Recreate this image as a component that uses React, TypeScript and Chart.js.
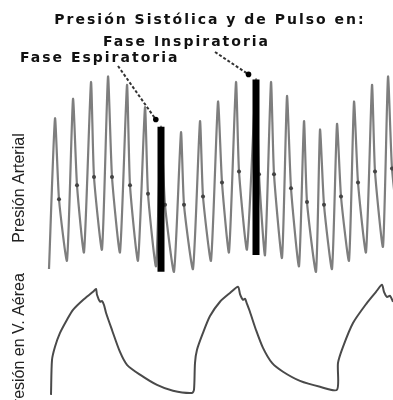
import { useEffect, useRef } from 'react';
import { Chart, registerables } from 'chart.js';

Chart.register(...registerables);

// ---- texts ----
const TITLE = 'Presión Sistólica y de Pulso en:';
const LABEL_INSP = 'Fase Inspiratoria';
const LABEL_ESP = 'Fase Espiratoria';
const AXIS_ART = 'Presión Arterial';
const AXIS_AIR = 'Presión en V. Aérea';

// ---- arterial pressure (time in s, pressure in mmHg), read beat by beat ----
const startTime = 0.04;
const startPressure = 61;
const peakTime = [0.28, 1.0, 1.72, 2.4, 3.16, 3.88, 4.52, 5.32, 6.08, 6.8, 7.52, 8.32, 8.92, 9.56, 10.24, 10.88, 11.56, 12.24, 12.96, 13.6];
const systolic = [115, 122, 128, 130, 127, 119, 112, 110, 114, 121, 128, 129, 128, 123, 114, 111, 113, 121, 127, 130];
const notchTime = [0.44, 1.16, 1.84, 2.56, 3.28, 4.0, 4.68, 5.44, 6.2, 6.96, 7.64, 8.44, 9.04, 9.72, 10.36, 11.04, 11.72, 12.4, 13.08, 13.76];
const notchPressure = [86, 91, 94, 94, 91, 88, 84, 84, 87, 92, 96, 95, 95, 90, 85, 84, 87, 92, 96, 97];
const troughTime = [0.76, 1.44, 2.16, 2.88, 3.6, 4.32, 5.04, 5.8, 6.52, 7.24, 7.96, 8.68, 9.36, 10.04, 10.72, 11.36, 12.04, 12.72, 13.4, 14.08];
const diastolic = [64, 67, 68, 67, 64, 62, 60, 61, 64, 67, 68, 66, 65, 62, 60, 61, 64, 67, 69, 70];
const expiratoryBeat = 6;
const inspiratoryBeat = 11;

// ---- airway pressure (time in s, pressure in cmH2O) ----
const airTime = [
  0.12, 0.16, 0.28, 0.48, 0.76, 1.0, 1.4, 1.8, 1.92, 1.96, 2.08, 2.16, 2.24, 2.32, 2.56, 2.88, 3.16, 3.68, 4.36, 5.0, 5.76,
  5.84, 5.88, 5.96, 6.2, 6.48, 6.88, 7.28, 7.6, 7.68, 7.8, 7.88, 7.96, 8.08, 8.32, 8.6, 8.96, 9.4, 10.08, 10.88, 11.56,
  11.6, 11.8, 12.2, 12.76, 13.12, 13.36, 13.44, 13.56, 13.68, 13.8,
];
const airPressure = [
  0, 9.5, 13.1, 16.9, 20.5, 23.2, 25.9, 28.1, 28.9, 27.3, 25.4, 25.6, 24.5, 22.4, 17.7, 11.7, 8.2, 5.5, 2.7, 1.1, 0.5,
  1.4, 8.7, 12.3, 16.9, 21.5, 25.4, 27.8, 29.5, 27.5, 25.9, 26.2, 24.8, 22.6, 17.7, 12.8, 8.7, 6.3, 3.8, 2.2, 1.4,
  8.7, 13.1, 19.6, 25.1, 28.1, 30.0, 28.1, 26.7, 27.0, 25.4,
];

const FONT_BOLD = { family: 'DejaVu Sans', size: 14, weight: 'bold' as const };

const annotations = {
  id: 'annotations',
  beforeDraw(chart: any) {
    chart.ctx.letterSpacing = '2px';
  },
  afterDraw(chart: any) {
    const { ctx, scales } = chart;
    const x = scales.x;
    const y = scales.y;
    const marks = [
      { text: LABEL_ESP, tx: 20, ty: 62, sx: 118, sy: 66, beat: expiratoryBeat },
      { text: LABEL_INSP, tx: 103, ty: 46, sx: 215, sy: 52, beat: inspiratoryBeat },
    ];
    ctx.save();
    ctx.letterSpacing = '2px';
    ctx.font = 'bold 14px "DejaVu Sans"';
    ctx.fillStyle = '#111';
    ctx.textAlign = 'left';
    ctx.textBaseline = 'alphabetic';
    for (const m of marks) {
      ctx.fillText(m.text, m.tx, m.ty);
      const px = x.getPixelForValue(peakTime[m.beat]);
      const py = y.getPixelForValue(systolic[m.beat]);
      const dx = m.sx - px;
      const dy = m.sy - py;
      const len = Math.hypot(dx, dy);
      const ex = px + (dx / len) * 9;
      const ey = py + (dy / len) * 9;
      ctx.save();
      ctx.strokeStyle = '#333';
      ctx.lineWidth = 2;
      ctx.setLineDash([3, 2]);
      ctx.beginPath();
      ctx.moveTo(m.sx, m.sy);
      ctx.lineTo(ex, ey);
      ctx.stroke();
      ctx.restore();
      ctx.beginPath();
      ctx.fillStyle = '#000';
      ctx.arc(ex, ey, 2.8, 0, Math.PI * 2);
      ctx.fill();
      ctx.fillStyle = '#111';
    }
    ctx.letterSpacing = '0px';
    ctx.font = '16px "Liberation Sans"';
    ctx.fillStyle = '#222';
    ctx.textAlign = 'center';
    const side = [
      { text: AXIS_ART, cy: 188 },
      { text: AXIS_AIR, cy: 344 },
    ];
    for (const s of side) {
      ctx.save();
      ctx.translate(24, s.cy);
      ctx.rotate(-Math.PI / 2);
      ctx.fillText(s.text, 0, 0);
      ctx.restore();
    }
    ctx.restore();
    ctx.letterSpacing = '0px';
  },
};

export default function App() {
  const ref = useRef<HTMLCanvasElement>(null);

  useEffect(() => {
    document.body.style.margin = '0';
    const arterial: { x: number; y: number }[] = [{ x: startTime, y: startPressure }];
    peakTime.forEach((t, i) => {
      arterial.push({ x: t, y: systolic[i] });
      arterial.push({ x: notchTime[i], y: notchPressure[i] });
      arterial.push({ x: troughTime[i], y: diastolic[i] });
    });
    const bar = (i: number) => [
      { x: peakTime[i], y: diastolic[i] },
      { x: peakTime[i], y: systolic[i] },
    ];
    const airway = airTime.map((t, i) => ({ x: t, y: airPressure[i] }));

    const chart = new Chart(ref.current!, {
      type: 'line',
      data: {
        datasets: [
          {
            data: bar(expiratoryBeat),
            borderColor: '#000',
            borderWidth: 7,
            borderCapStyle: 'butt',
            pointRadius: 0,
            yAxisID: 'y',
            order: 0,
          },
          {
            data: bar(inspiratoryBeat),
            borderColor: '#000',
            borderWidth: 7,
            borderCapStyle: 'butt',
            pointRadius: 0,
            yAxisID: 'y',
            order: 0,
          },
          {
            data: arterial,
            borderColor: '#7e7e7e',
            borderWidth: 2.2,
            tension: 0.18,
            pointRadius: (c: any) => (c.dataIndex % 3 === 2 ? 2 : 0),
            pointBackgroundColor: '#444',
            pointBorderWidth: 0,
            yAxisID: 'y',
            order: 1,
          },
          {
            data: airway,
            borderColor: '#4a4a4a',
            borderWidth: 2,
            tension: 0.25,
            pointRadius: 0,
            yAxisID: 'y2',
            order: 2,
          },
        ],
      },
      options: {
        responsive: false,
        animation: false,
        devicePixelRatio: 1,
        layout: { padding: { left: 27, right: 0, top: 0, bottom: 0 } },
        scales: {
          x: { type: 'linear', min: -0.84, max: 13.8, display: false },
          y: { type: 'linear', min: 14, max: 145, display: false },
          y2: { type: 'linear', min: -1.4, max: 98.2, display: false, position: 'left' },
        },
        plugins: {
          legend: { display: false },
          tooltip: { enabled: false },
          title: {
            display: true,
            text: TITLE,
            color: '#111',
            font: FONT_BOLD,
            padding: { top: 12, bottom: 6 },
          },
        },
      },
      plugins: [annotations],
    } as any);
    return () => chart.destroy();
  }, []);

  return (
    <div style={{ width: 393, height: 400, background: '#fff' }}>
      <canvas ref={ref} width={393} height={400} />
    </div>
  );
}
